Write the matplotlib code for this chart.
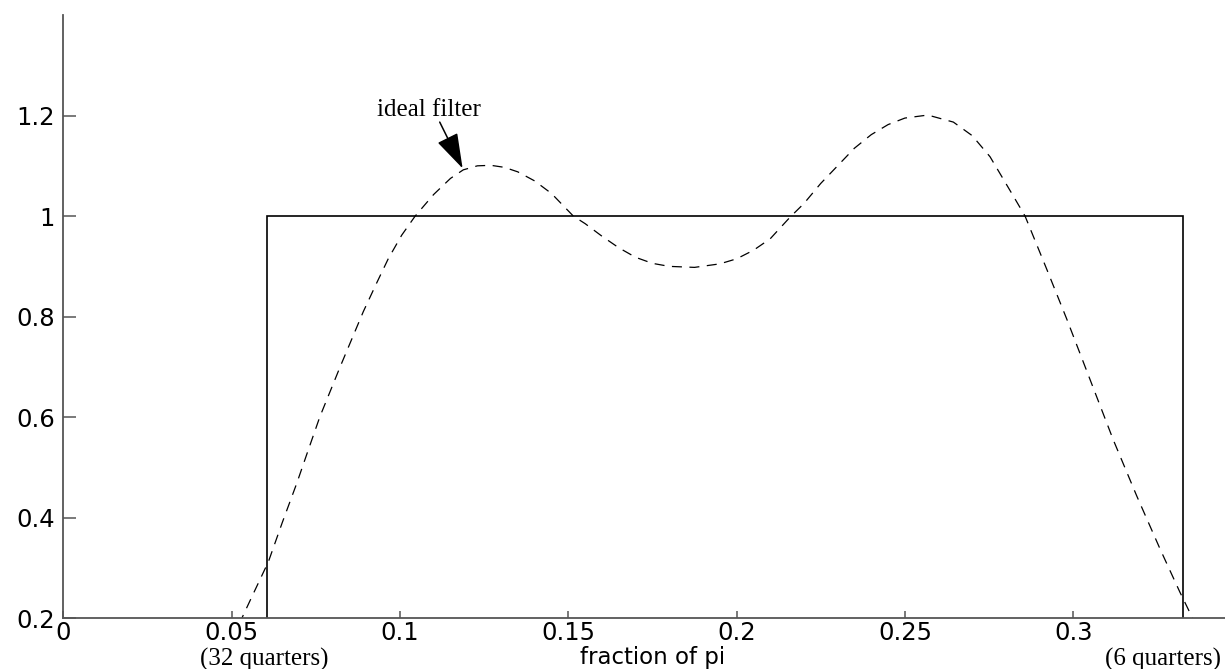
import matplotlib
matplotlib.use("Agg")
import matplotlib.pyplot as plt

# ---- data ----
ideal_x = [0.0, 0.0606, 0.0606, 0.3327, 0.3327, 0.35]
ideal_y = [0.0, 0.0, 1.0, 1.0, 0.0, 0.0]

resp_x = [0.050, 0.053, 0.056, 0.0609, 0.065, 0.0693, 0.0725, 0.0762, 0.0822,
          0.0891, 0.093, 0.0965, 0.1005, 0.1045, 0.110, 0.115, 0.1188, 0.123,
          0.127, 0.131, 0.135, 0.140, 0.145, 0.1515, 0.155, 0.160, 0.165,
          0.170, 0.175, 0.180, 0.1875, 0.195, 0.200, 0.205, 0.210, 0.2159,
          0.220, 0.225, 0.230, 0.235, 0.240, 0.245, 0.250, 0.2568, 0.2644,
          0.270, 0.2753, 0.2822, 0.2857, 0.2921, 0.2981, 0.305, 0.3119,
          0.3189, 0.3258, 0.3317, 0.3357, 0.340]
resp_y = [0.157, 0.200, 0.243, 0.3125, 0.390, 0.468, 0.530, 0.601, 0.700,
          0.810, 0.866, 0.915, 0.962, 1.000, 1.043, 1.075, 1.092, 1.100,
          1.101, 1.097, 1.088, 1.070, 1.045, 1.000, 0.985, 0.960, 0.937,
          0.918, 0.906, 0.900, 0.898, 0.905, 0.915, 0.932, 0.955, 0.998,
          1.025, 1.065, 1.100, 1.135, 1.162, 1.182, 1.195, 1.201, 1.187,
          1.160, 1.118, 1.040, 1.000, 0.895, 0.795, 0.675, 0.555,
          0.443, 0.338, 0.252, 0.197, 0.140]

xticks = [0, 0.05, 0.1, 0.15, 0.2, 0.25, 0.3]
xticklabels = ["0", "0.05", "0.1", "0.15", "0.2", "0.25", "0.3"]
yticks = [0.2, 0.4, 0.6, 0.8, 1.0, 1.2]
yticklabels = ["0.2", "0.4", "0.6", "0.8", "1", "1.2"]

annot_label = "ideal filter"
annot_tip = (0.1186, 1.095)
annot_tail = (0.1118, 1.187)
annot_text_pos = (0.1085, 1.199)

W, H = 1225, 669
fig = plt.figure(figsize=(W / 100, H / 100), dpi=100)

left_px, right_px = 63.4, 63.4 + 0.35 * 3366
bottom_px, top_px = 618.3, 15
ax = fig.add_axes([left_px / W, 1 - bottom_px / H,
                   (right_px - left_px) / W, (bottom_px - top_px) / H])

ax.plot(ideal_x, ideal_y, color="black", lw=1.2, solid_joinstyle="miter")
ax.plot(resp_x, resp_y, color="black", lw=0.9, linestyle=(0, (8, 6)))

ax.set_xlim(0, 0.35)
ax.set_ylim(0.2, 1.4)

for s in ("top", "right"):
    ax.spines[s].set_visible(False)
for s in ("left", "bottom"):
    ax.spines[s].set_color("#555555")
    ax.spines[s].set_linewidth(1.3)

sans = "DejaVu Sans"
ax.set_xticks(xticks)
ax.set_xticklabels(xticklabels, fontsize=17.5, family=sans)
ax.set_yticks(yticks)
ax.set_yticklabels(yticklabels, fontsize=17.5, family=sans)
ax.tick_params(axis="x", direction="in", length=5, width=1.1, color="#555555", pad=2)
ax.tick_params(axis="y", direction="in", length=9, width=1.1, color="#555555", pad=6)

ax.set_xlabel("fraction of pi", fontsize=16.5, family=sans, labelpad=0.5)

serif = "Liberation Serif"
ax.annotate("", xy=annot_tip, xytext=annot_tail,
            arrowprops=dict(arrowstyle="-|>,head_length=2.2,head_width=0.7",
                            color="black", lw=1.1, shrinkA=0, shrinkB=0))
ax.text(annot_text_pos[0], annot_text_pos[1], annot_label, ha="center",
        va="baseline", fontsize=18, family=serif)

fig.text(264 / W, 1 - 659 / H, "(32 quarters)", ha="center", va="center",
         fontsize=18, family=serif)
fig.text(1105 / W, 1 - 659 / H, "(6 quarters)", ha="left", va="center",
         fontsize=18, family=serif)

fig.savefig("out.png", dpi=100)
